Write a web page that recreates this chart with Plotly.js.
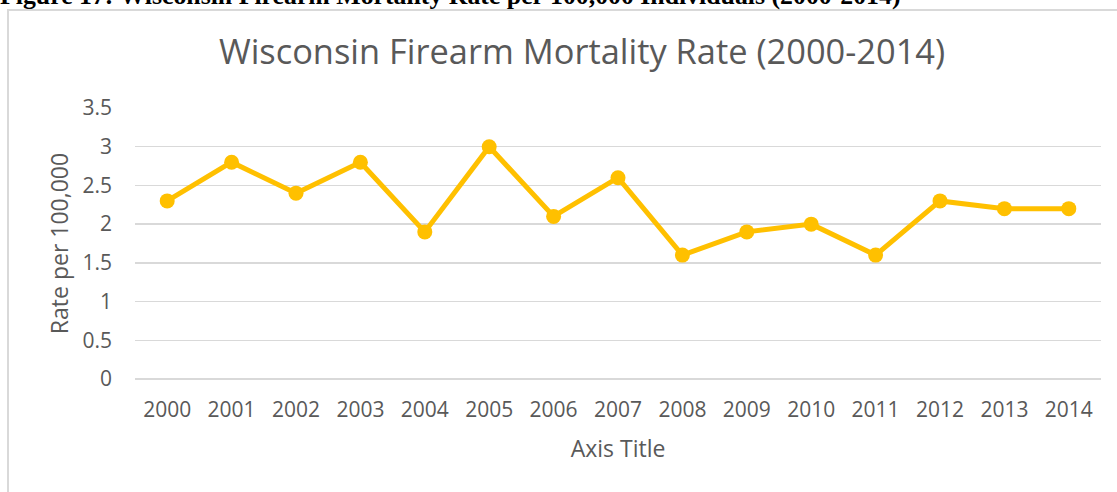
<!DOCTYPE html>
<html>
<head>
<meta charset="utf-8">
<script src="https://cdn.plot.ly/plotly-3.0.1.min.js"></script>
<style>
  html, body { margin: 0; padding: 0; background: #fff; overflow: hidden; }
  #wrap { position: relative; width: 1117px; height: 492px; overflow: hidden; }
  #chart { position: absolute; left: 0; top: 0; width: 1117px; height: 492px; }
  #frame { position: absolute; left: 7px; top: 9px; width: 1200px; height: 600px;
           border: 2px solid #d9d9d9; pointer-events: none; box-sizing: border-box; }
  #caption { position: absolute; left: 0px; top: -17px; white-space: nowrap;
             font-family: "Liberation Serif", "Times New Roman", serif; font-weight: bold;
             font-size: 25.8px; line-height: 26px; color: #000; }
</style>
</head>
<body>
<div id="wrap">
  <div id="chart"></div>
  <div id="frame"></div>
  <div id="caption">Figure 17: Wisconsin Firearm Mortality Rate per 100,000 Individuals (2000-2014)</div>
</div>
<script>
const years = ["2000","2001","2002","2003","2004","2005","2006","2007","2008","2009","2010","2011","2012","2013","2014"];
const rates = [2.3, 2.8, 2.4, 2.8, 1.9, 3.0, 2.1, 2.6, 1.6, 1.9, 2.0, 1.6, 2.3, 2.2, 2.2];
const yTicks = [0, 0.5, 1, 1.5, 2, 2.5, 3, 3.5];
const yTickText = ["0", "0.5", "1", "1.5", "2", "2.5", "3", "3.5"];

const font = "Open Sans, Liberation Sans, sans-serif";
const grey = "#595959";

const trace = {
  x: years,
  y: rates,
  type: "scatter",
  mode: "lines+markers",
  line: { color: "#FFC000", width: 5 },
  marker: { color: "#FFC000", size: 15 },
  hoverinfo: "x+y"
};

const layout = {
  width: 1117,
  height: 492,
  margin: { l: 135, r: 16, t: 108, b: 113 },
  paper_bgcolor: "rgba(0,0,0,0)",
  plot_bgcolor: "rgba(0,0,0,0)",
  showlegend: false,
  title: {
    text: "Wisconsin Firearm Mortality Rate (2000-2014)",
    font: { family: font, size: 34.4, color: grey },
    xref: "container", x: 582 / 1117, xanchor: "center",
    yref: "container", y: 1 - 52 / 492, yanchor: "middle",
    automargin: false
  },
  xaxis: {
    type: "category",
    categoryarray: years,
    range: [-0.5, years.length - 0.5],
    automargin: false,
    showgrid: false,
    zeroline: false,
    showline: false,
    ticks: "",
    ticklabelstandoff: 16,
    tickfont: { family: font, size: 21, color: grey },
    title: { text: "Axis Title", font: { family: font, size: 23, color: grey }, standoff: 18 }
  },
  yaxis: {
    range: [0, 3.5],
    tickvals: yTicks,
    ticktext: yTickText,
    automargin: false,
    showgrid: true,
    gridcolor: "#d9d9d9",
    gridwidth: 1.3,
    zeroline: true,
    zerolinecolor: "#d9d9d9",
    zerolinewidth: 1.3,
    showline: false,
    ticks: "",
    ticklabelstandoff: 22,
    tickfont: { family: font, size: 21, color: grey },
    title: { text: "Rate per 100,000", font: { family: font, size: 23, color: grey }, standoff: 7 }
  }
};

Plotly.newPlot("chart", [trace], layout, { displayModeBar: false, staticPlot: true });
</script>
</body>
</html>
